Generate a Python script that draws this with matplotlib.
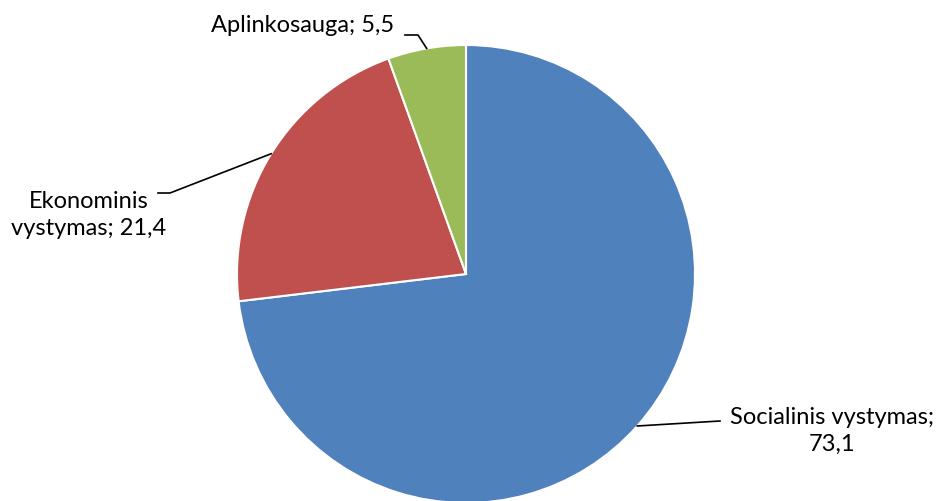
import numpy as np
import matplotlib.pyplot as plt

plt.rcParams['font.family'] = ['Lato', 'DejaVu Sans']

labels = ["Socialinis vystymas", "Ekonominis vystymas", "Aplinkosauga"]
values = [73.1, 21.4, 5.5]
colors = ["#4F81BD", "#C0504D", "#9BBB59"]

W, H = 940, 502
fig = plt.figure(figsize=(W / 100, H / 100), dpi=100)
ax = fig.add_axes([0, 0, 1, 1])

cx, cy, r = 466, H - 275, 229
wedges, _ = ax.pie(values, colors=colors, startangle=90, counterclock=False,
                   center=(cx, cy), radius=r, frame=True,
                   wedgeprops=dict(edgecolor='white', linewidth=1.5))
ax.set_xlim(0, W)
ax.set_ylim(0, H)
ax.set_aspect('equal')
ax.axis('off')

def fmt(v):
    return f"{v:.1f}".replace('.', ',')

# label text position, elbow points of the leader line
layout = [
    dict(text=f"Socialinis vystymas;\n{fmt(values[0])}", xy=(832, H - 431),
         elbow=[(720, H - 422)]),
    dict(text=f"Ekonominis\nvystymas; {fmt(values[1])}", xy=(89, H - 215),
         elbow=[(170, H - 194), (158, H - 194)]),
    dict(text=f"Aplinkosauga; {fmt(values[2])}", xy=(303, H - 26),
         elbow=[(418, H - 36), (405, H - 36)]),
]

for w, lay in zip(wedges, layout):
    ang = np.deg2rad((w.theta1 + w.theta2) / 2)
    px, py = cx + r * np.cos(ang), cy + r * np.sin(ang)
    pts = [(px, py)] + lay['elbow']
    ax.plot([p[0] for p in pts], [p[1] for p in pts], color='black', lw=1.2)
    ax.text(lay['xy'][0], lay['xy'][1], lay['text'], ha='center', va='center',
            fontsize=17, color='black', linespacing=1.3)

fig.savefig("out.png", dpi=100)
